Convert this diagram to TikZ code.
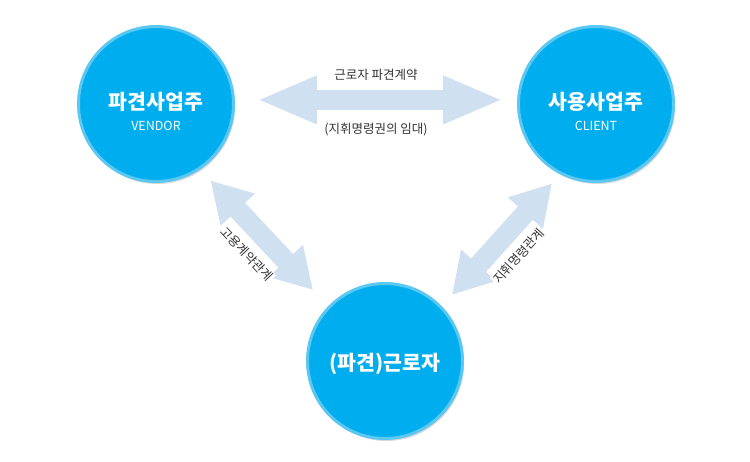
\documentclass[tikz,border=0pt]{standalone}
\usepackage{fontspec}
\setmainfont{Noto Sans CJK KR}
\usetikzlibrary{arrows.meta,shadows}

\definecolor{partyblue}{HTML}{00AEEF}
\definecolor{ringblue}{HTML}{5CC8F2}
\definecolor{arrowblue}{HTML}{CFE0F1}

\begin{document}
\begin{tikzpicture}[x=1pt,y=-1pt]
    \useasboundingbox (0,0) rectangle (750,461);

        \begin{scope}[every node/.style={circle,draw=ringblue,line width=3pt,fill=partyblue,minimum size=155pt,text=white,align=center,
                      drop shadow={shadow xshift=1.5pt,shadow yshift=-2.5pt,opacity=0.3}}]
            \node (vendor) at (156,104) {\rule{0pt}{32pt}{\fontsize{20.5}{22}\selectfont\bfseries 파견사업주}\\[9pt]{\fontsize{12.5}{14}\selectfont VENDOR}};
            \node (client) at (596,104) {\rule{0pt}{32pt}{\fontsize{20.5}{22}\selectfont\bfseries 사용사업주}\\[9pt]{\fontsize{12.5}{14}\selectfont CLIENT}};
            \node (worker) at (385,361) {\rule{0pt}{24pt}\fontsize{20.5}{22}\selectfont\bfseries (파견)근로자};
        \end{scope}

        \begin{scope}[every edge/.style={draw=arrowblue,line width=20pt}, every node/.style={font=\fontsize{12.5}{14}\selectfont,text=black!80,inner sep=1pt}]
            \path [{Triangle[length=60pt,width=44pt]}-{Triangle[length=60pt,width=44pt]}]
                (vendor.3) edge [shorten <=22pt, shorten >=14pt] node [above=8pt] {근로자 파견계약} node [below=12pt] {(지휘명령권의 임대)} (client.177);

            \path [{Triangle[length=40pt,width=44pt]}-{Triangle[length=40pt,width=44pt]}]
                (vendor.-56) edge [shorten <=15pt, shorten >=22pt] node [sloped,below=7pt,fill=white] {고용계약관계} (worker.136);
            \path [{Triangle[length=40pt,width=44pt]}-{Triangle[length=40pt,width=44pt]}]
                (worker.44) edge [shorten <=15pt, shorten >=12pt] node [sloped,below=7pt,fill=white] {지휘명령관계} (client.-117);
        \end{scope}

    \end{tikzpicture}
\end{document}
